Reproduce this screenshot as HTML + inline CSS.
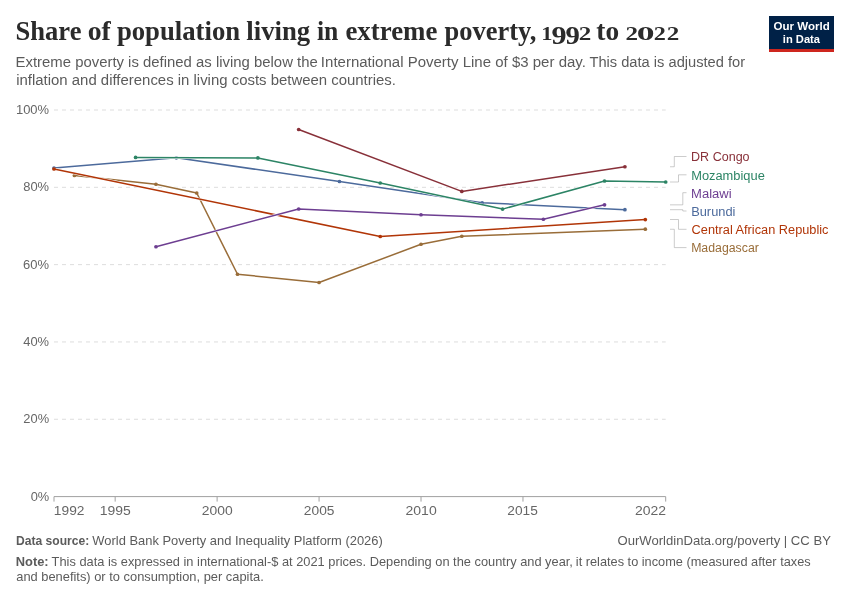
<!DOCTYPE html>
<html lang="en"><head><meta charset="utf-8">
<title>Share of population living in extreme poverty, 1992 to 2022</title>
<style>
html,body{margin:0;padding:0;background:#fff;}
body{width:850px;height:600px;overflow:hidden;}
svg{display:block;}
text{white-space:pre;}
</style></head><body>
<svg width="850" height="600" viewBox="0 0 850 600" style="font-family:'Liberation Sans', sans-serif">
<rect x="0" y="0" width="850" height="600" fill="#ffffff"/>
<g id="title">
<text font-size="27" fill="#2b2b2b" font-weight="bold" font-family='"Liberation Serif", serif'><tspan x="15.57" y="39.80" textLength="65.88" lengthAdjust="spacingAndGlyphs">Share</tspan> <tspan x="87.70" y="39.80" textLength="23.12" lengthAdjust="spacingAndGlyphs">of</tspan> <tspan x="116.92" y="39.80" textLength="123.25" lengthAdjust="spacingAndGlyphs">population</tspan> <tspan x="246.32" y="39.80" textLength="63.85" lengthAdjust="spacingAndGlyphs">living</tspan> <tspan x="316.94" y="39.80" textLength="21.38" lengthAdjust="spacingAndGlyphs">in</tspan> <tspan x="345.43" y="39.80" textLength="91.97" lengthAdjust="spacingAndGlyphs">extreme</tspan> <tspan x="444.44" y="39.80" textLength="91.96" lengthAdjust="spacingAndGlyphs">poverty,</tspan> <tspan x="541.35" y="40.00" font-size="19.7" textLength="11.20" lengthAdjust="spacingAndGlyphs">1</tspan><tspan x="551.45" y="43.90" font-size="25.4" textLength="15.02" lengthAdjust="spacingAndGlyphs">9</tspan><tspan x="565.59" y="43.90" font-size="25.4" textLength="14.34" lengthAdjust="spacingAndGlyphs">9</tspan><tspan x="578.82" y="40.00" font-size="19.7" textLength="12.52" lengthAdjust="spacingAndGlyphs">2</tspan> <tspan x="596.38" y="39.80" textLength="22.80" lengthAdjust="spacingAndGlyphs">to</tspan> <tspan x="625.49" y="40.00" font-size="19.7" textLength="12.54" lengthAdjust="spacingAndGlyphs">2</tspan><tspan x="636.88" y="40.00" font-size="19.7" textLength="17.81" lengthAdjust="spacingAndGlyphs">0</tspan><tspan x="653.69" y="40.00" font-size="19.7" textLength="12.09" lengthAdjust="spacingAndGlyphs">2</tspan><tspan x="666.80" y="40.00" font-size="19.7" textLength="12.53" lengthAdjust="spacingAndGlyphs">2</tspan></text>
</g>
<g id="subtitle">
<text font-size="14.7" fill="#5b5b5b"><tspan x="15.55" y="66.50" textLength="302.19" lengthAdjust="spacingAndGlyphs">Extreme poverty is defined as living below the</tspan> <tspan x="320.89" y="66.50" textLength="265.02" lengthAdjust="spacingAndGlyphs">International Poverty Line of $3 per day.</tspan> <tspan x="589.44" y="66.50" textLength="155.66" lengthAdjust="spacingAndGlyphs">This data is adjusted for</tspan></text>
<text x="16.23" y="84.60" font-size="14.7" fill="#5b5b5b" textLength="379.74" lengthAdjust="spacingAndGlyphs">inflation and differences in living costs between countries.</text>
</g>
<g id="logo-bg">
<rect x="769" y="16" width="65" height="36" fill="#002147"/>
<rect x="769" y="49" width="65" height="3" fill="#ce261e"/>
</g>
<g id="logo">
<text x="773.55" y="30.30" font-size="11.8" fill="#ffffff" font-weight="bold" textLength="56.19" lengthAdjust="spacingAndGlyphs">Our World</text>
<text x="782.82" y="42.80" font-size="11.8" fill="#ffffff" font-weight="bold" textLength="37.25" lengthAdjust="spacingAndGlyphs">in Data</text>
</g>
<g id="grid">
<line x1="54.0" y1="419.28" x2="665.7" y2="419.28" stroke="#dddddd" stroke-width="1" stroke-dasharray="4,4"/>
<line x1="54.0" y1="341.96" x2="665.7" y2="341.96" stroke="#dddddd" stroke-width="1" stroke-dasharray="4,4"/>
<line x1="54.0" y1="264.64" x2="665.7" y2="264.64" stroke="#dddddd" stroke-width="1" stroke-dasharray="4,4"/>
<line x1="54.0" y1="187.32" x2="665.7" y2="187.32" stroke="#dddddd" stroke-width="1" stroke-dasharray="4,4"/>
<line x1="54.0" y1="110.00" x2="665.7" y2="110.00" stroke="#dddddd" stroke-width="1" stroke-dasharray="4,4"/>
</g>
<g id="yaxis">
<text x="30.66" y="500.60" font-size="13.4" fill="#666666" textLength="18.52" lengthAdjust="spacingAndGlyphs">0%</text>
<text x="23.34" y="423.28" font-size="13.4" fill="#666666" textLength="25.74" lengthAdjust="spacingAndGlyphs">20%</text>
<text x="23.28" y="345.96" font-size="13.4" fill="#666666" textLength="25.84" lengthAdjust="spacingAndGlyphs">40%</text>
<text x="23.08" y="268.64" font-size="13.4" fill="#666666" textLength="26.01" lengthAdjust="spacingAndGlyphs">60%</text>
<text x="23.26" y="191.32" font-size="13.4" fill="#666666" textLength="25.85" lengthAdjust="spacingAndGlyphs">80%</text>
<text x="15.95" y="114.00" font-size="13.4" fill="#666666" textLength="33.12" lengthAdjust="spacingAndGlyphs">100%</text>
</g>
<g id="xaxis-line">
<line x1="54.0" y1="496.60" x2="665.7" y2="496.60" stroke="#a1a1a1" stroke-width="1"/>
<line x1="54.00" y1="496.60" x2="54.00" y2="501.60" stroke="#a1a1a1" stroke-width="1"/>
<line x1="115.17" y1="496.60" x2="115.17" y2="501.60" stroke="#a1a1a1" stroke-width="1"/>
<line x1="217.12" y1="496.60" x2="217.12" y2="501.60" stroke="#a1a1a1" stroke-width="1"/>
<line x1="319.07" y1="496.60" x2="319.07" y2="501.60" stroke="#a1a1a1" stroke-width="1"/>
<line x1="421.02" y1="496.60" x2="421.02" y2="501.60" stroke="#a1a1a1" stroke-width="1"/>
<line x1="522.97" y1="496.60" x2="522.97" y2="501.60" stroke="#a1a1a1" stroke-width="1"/>
<line x1="665.70" y1="496.60" x2="665.70" y2="501.60" stroke="#a1a1a1" stroke-width="1"/>
</g>
<g id="xaxis">
<text x="53.83" y="514.80" font-size="13.4" fill="#666666" textLength="30.62" lengthAdjust="spacingAndGlyphs">1992</text>
<text x="99.77" y="514.80" font-size="13.4" fill="#666666" textLength="31.06" lengthAdjust="spacingAndGlyphs">1995</text>
<text x="201.85" y="514.80" font-size="13.4" fill="#666666" textLength="30.87" lengthAdjust="spacingAndGlyphs">2000</text>
<text x="303.89" y="514.80" font-size="13.4" fill="#666666" textLength="30.58" lengthAdjust="spacingAndGlyphs">2005</text>
<text x="405.49" y="514.80" font-size="13.4" fill="#666666" textLength="31.20" lengthAdjust="spacingAndGlyphs">2010</text>
<text x="507.30" y="514.80" font-size="13.4" fill="#666666" textLength="30.47" lengthAdjust="spacingAndGlyphs">2015</text>
<text x="635.06" y="514.80" font-size="13.4" fill="#666666" textLength="31.02" lengthAdjust="spacingAndGlyphs">2022</text>
</g>
<g id="lines" fill="none" stroke-width="1.5" stroke-linejoin="round" stroke-linecap="butt">
<g><path d="M54.00,168.00 L176.34,157.80 L339.46,181.50 L482.19,202.75 L624.92,209.70" stroke="#ffffff" stroke-width="2.5"/><path d="M54.00,168.00 L176.34,157.80 L339.46,181.50 L482.19,202.75 L624.92,209.70" stroke="#4C6A9C"/>
<circle cx="54.00" cy="168.00" r="1.85" fill="#4C6A9C" stroke="none"/>
<circle cx="176.34" cy="157.80" r="1.85" fill="#4C6A9C" stroke="none"/>
<circle cx="339.46" cy="181.50" r="1.85" fill="#4C6A9C" stroke="none"/>
<circle cx="482.19" cy="202.75" r="1.85" fill="#4C6A9C" stroke="none"/>
<circle cx="624.92" cy="209.70" r="1.85" fill="#4C6A9C" stroke="none"/>
</g>
<g><path d="M74.39,175.50 L155.95,184.25 L196.73,193.00 L237.51,274.25 L319.07,282.50 L421.02,244.25 L461.80,236.25 L645.31,229.20" stroke="#ffffff" stroke-width="2.5"/><path d="M74.39,175.50 L155.95,184.25 L196.73,193.00 L237.51,274.25 L319.07,282.50 L421.02,244.25 L461.80,236.25 L645.31,229.20" stroke="#996D39"/>
<circle cx="74.39" cy="175.50" r="1.85" fill="#996D39" stroke="none"/>
<circle cx="155.95" cy="184.25" r="1.85" fill="#996D39" stroke="none"/>
<circle cx="196.73" cy="193.00" r="1.85" fill="#996D39" stroke="none"/>
<circle cx="237.51" cy="274.25" r="1.85" fill="#996D39" stroke="none"/>
<circle cx="319.07" cy="282.50" r="1.85" fill="#996D39" stroke="none"/>
<circle cx="421.02" cy="244.25" r="1.85" fill="#996D39" stroke="none"/>
<circle cx="461.80" cy="236.25" r="1.85" fill="#996D39" stroke="none"/>
<circle cx="645.31" cy="229.20" r="1.85" fill="#996D39" stroke="none"/>
</g>
<g><path d="M54.00,169.00 L380.24,236.50 L645.31,219.60" stroke="#ffffff" stroke-width="2.5"/><path d="M54.00,169.00 L380.24,236.50 L645.31,219.60" stroke="#B13507"/>
<circle cx="54.00" cy="169.00" r="1.85" fill="#B13507" stroke="none"/>
<circle cx="380.24" cy="236.50" r="1.85" fill="#B13507" stroke="none"/>
<circle cx="645.31" cy="219.60" r="1.85" fill="#B13507" stroke="none"/>
</g>
<g><path d="M298.68,129.50 L461.80,191.40 L624.92,166.75" stroke="#ffffff" stroke-width="2.5"/><path d="M298.68,129.50 L461.80,191.40 L624.92,166.75" stroke="#883039"/>
<circle cx="298.68" cy="129.50" r="1.85" fill="#883039" stroke="none"/>
<circle cx="461.80" cy="191.40" r="1.85" fill="#883039" stroke="none"/>
<circle cx="624.92" cy="166.75" r="1.85" fill="#883039" stroke="none"/>
</g>
<g><path d="M155.95,246.75 L298.68,209.00 L421.02,214.75 L543.36,219.25 L604.53,204.85" stroke="#ffffff" stroke-width="2.5"/><path d="M155.95,246.75 L298.68,209.00 L421.02,214.75 L543.36,219.25 L604.53,204.85" stroke="#6D3E91"/>
<circle cx="155.95" cy="246.75" r="1.85" fill="#6D3E91" stroke="none"/>
<circle cx="298.68" cy="209.00" r="1.85" fill="#6D3E91" stroke="none"/>
<circle cx="421.02" cy="214.75" r="1.85" fill="#6D3E91" stroke="none"/>
<circle cx="543.36" cy="219.25" r="1.85" fill="#6D3E91" stroke="none"/>
<circle cx="604.53" cy="204.85" r="1.85" fill="#6D3E91" stroke="none"/>
</g>
<g><path d="M135.56,157.40 L257.90,157.90 L380.24,183.00 L502.58,209.10 L604.53,181.00 L665.70,182.00" stroke="#ffffff" stroke-width="2.5"/><path d="M135.56,157.40 L257.90,157.90 L380.24,183.00 L502.58,209.10 L604.53,181.00 L665.70,182.00" stroke="#2C8465"/>
<circle cx="135.56" cy="157.40" r="1.85" fill="#2C8465" stroke="none"/>
<circle cx="257.90" cy="157.90" r="1.85" fill="#2C8465" stroke="none"/>
<circle cx="380.24" cy="183.00" r="1.85" fill="#2C8465" stroke="none"/>
<circle cx="502.58" cy="209.10" r="1.85" fill="#2C8465" stroke="none"/>
<circle cx="604.53" cy="181.00" r="1.85" fill="#2C8465" stroke="none"/>
<circle cx="665.70" cy="182.00" r="1.85" fill="#2C8465" stroke="none"/>
</g>
</g>
<g id="legend-lines">
<path d="M670,166.75 H674.3 V156.50 H686.5" fill="none" stroke="#999999" stroke-width="0.5"/>
<path d="M670,182.00 H678.5 V174.80 H686.5" fill="none" stroke="#999999" stroke-width="0.5"/>
<path d="M670,204.85 H682.8 V192.70 H686.5" fill="none" stroke="#999999" stroke-width="0.5"/>
<path d="M670,209.70 H682.8 V211.00 H686.5" fill="none" stroke="#999999" stroke-width="0.5"/>
<path d="M670,219.50 H678.5 V229.30 H686.5" fill="none" stroke="#999999" stroke-width="0.5"/>
<path d="M670,229.25 H674.3 V247.60 H686.5" fill="none" stroke="#999999" stroke-width="0.5"/>
</g>
<g id="legend">
<text x="691.07" y="161.30" font-size="12.5" fill="#883039" textLength="58.53" lengthAdjust="spacingAndGlyphs">DR Congo</text>
<text x="691.19" y="179.60" font-size="12.5" fill="#2C8465" textLength="73.61" lengthAdjust="spacingAndGlyphs">Mozambique</text>
<text x="691.13" y="197.50" font-size="12.5" fill="#6D3E91" textLength="40.51" lengthAdjust="spacingAndGlyphs">Malawi</text>
<text x="691.17" y="215.80" font-size="12.5" fill="#4C6A9C" textLength="44.29" lengthAdjust="spacingAndGlyphs">Burundi</text>
<text x="691.58" y="234.10" font-size="12.5" fill="#B13507" textLength="136.91" lengthAdjust="spacingAndGlyphs">Central African Republic</text>
<text x="691.14" y="252.40" font-size="12.5" fill="#996D39" textLength="67.72" lengthAdjust="spacingAndGlyphs">Madagascar</text>
</g>
<g id="footer">
<text font-size="12.6" fill="#5b5b5b"><tspan x="16.00" y="545.00" font-weight="bold" textLength="73.30" lengthAdjust="spacingAndGlyphs">Data source:</tspan> <tspan x="92.38" y="545.00" textLength="290.41" lengthAdjust="spacingAndGlyphs">World Bank Poverty and Inequality Platform (2026)</tspan></text>
<text x="617.49" y="545.00" font-size="12.6" fill="#5b5b5b" textLength="213.39" lengthAdjust="spacingAndGlyphs">OurWorldinData.org/poverty | CC BY</text>
<text font-size="12.6" fill="#5b5b5b"><tspan x="15.77" y="565.80" font-weight="bold" textLength="32.89" lengthAdjust="spacingAndGlyphs">Note:</tspan> <tspan x="51.60" y="565.80" textLength="521.33" lengthAdjust="spacingAndGlyphs">This data is expressed in international-$ at 2021 prices. Depending on the country and year,</tspan> <tspan x="575.81" y="565.80" textLength="234.85" lengthAdjust="spacingAndGlyphs">it relates to income (measured after taxes</tspan></text>
<text x="16.25" y="581.00" font-size="12.6" fill="#5b5b5b" textLength="247.49" lengthAdjust="spacingAndGlyphs">and benefits) or to consumption, per capita.</text>
</g>
</svg>
</body></html>
